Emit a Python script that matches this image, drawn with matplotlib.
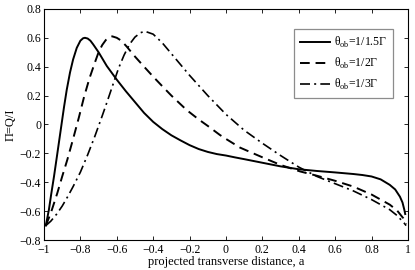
import matplotlib
matplotlib.use("Agg")
import matplotlib.pyplot as plt
from matplotlib.ticker import FuncFormatter, MultipleLocator

# curve data
a_15 = [-0.99, -0.973, -0.96, -0.945, -0.93, -0.91, -0.89, -0.875, -0.857, -0.84, -0.82,
        -0.80, -0.785, -0.775, -0.76, -0.745, -0.73, -0.70, -0.655, -0.60, -0.55, -0.50,
        -0.45, -0.40, -0.35, -0.30, -0.25, -0.20, -0.15, -0.10, -0.05, 0.0, 0.05, 0.1,
        0.2, 0.3, 0.4, 0.5, 0.6, 0.7, 0.75, 0.8, 0.85, 0.9, 0.93, 0.956, 0.97, 0.98,
        0.985]
pi_15 = [-0.70, -0.59, -0.48, -0.36, -0.23, -0.055, 0.12, 0.24, 0.36, 0.45, 0.53,
         0.58, 0.597, 0.60, 0.595, 0.58, 0.555, 0.50, 0.405, 0.31, 0.23, 0.155,
         0.08, 0.018, -0.032, -0.075, -0.11, -0.143, -0.17, -0.19, -0.205, -0.215,
         -0.228, -0.24, -0.265, -0.29, -0.31, -0.322, -0.332, -0.343, -0.35, -0.36,
         -0.38, -0.418, -0.45, -0.50, -0.54, -0.59, -0.62]

a_2 = [-0.99, -0.963, -0.927, -0.90, -0.872, -0.84, -0.808, -0.78, -0.75, -0.72, -0.70,
       -0.68, -0.66, -0.64, -0.625, -0.60, -0.575, -0.546, -0.50, -0.45, -0.40, -0.35,
       -0.30, -0.216, -0.15, -0.10, -0.033, 0.0, 0.077, 0.15, 0.205, 0.3, 0.407, 0.5,
       0.6, 0.7, 0.8, 0.9, 0.94, 0.975, 0.99]
pi_2 = [-0.70, -0.615, -0.476, -0.36, -0.245, -0.10, 0.05, 0.19, 0.32, 0.43, 0.50,
        0.55, 0.585, 0.605, 0.61, 0.60, 0.58, 0.54, 0.47, 0.40, 0.331, 0.265,
        0.20, 0.10, 0.035, -0.01, -0.073, -0.10, -0.16, -0.20, -0.23, -0.28, -0.325,
        -0.355, -0.39, -0.43, -0.485, -0.555, -0.595, -0.65, -0.69]

a_3 = [-0.99, -0.963, -0.93, -0.90, -0.87, -0.84, -0.80, -0.76, -0.72, -0.68, -0.655,
       -0.62, -0.59, -0.56, -0.53, -0.50, -0.47, -0.445, -0.40, -0.35, -0.30, -0.20,
       -0.10, 0.0, 0.1, 0.2, 0.3, 0.4, 0.5, 0.6, 0.7, 0.8, 0.9, 0.94, 0.98, 0.99]
pi_3 = [-0.70, -0.67, -0.62, -0.565, -0.50, -0.43, -0.33, -0.21, -0.08, 0.06, 0.15,
        0.28, 0.39, 0.48, 0.555, 0.605, 0.635, 0.645, 0.625, 0.565, 0.49, 0.34,
        0.20, 0.07, -0.04, -0.13, -0.215, -0.295, -0.36, -0.41, -0.46, -0.52, -0.59,
        -0.63, -0.684, -0.70]

labels = [r"θ$_{\rm ob}$=1/1.5Γ", r"θ$_{\rm ob}$=1/2Γ", r"θ$_{\rm ob}$=1/3Γ"]

plt.rcParams["font.family"] = ["Liberation Serif", "DejaVu Serif"]
plt.rcParams["mathtext.fontset"] = "custom"
plt.rcParams["mathtext.rm"] = "Liberation Serif"
plt.rcParams["font.size"] = 8.5


def tick_fmt(v, pos):
    v = round(v, 1)
    if v == 0:
        return "0"
    return f"{v:g}".replace("-", "\u2212")


fig = plt.figure(figsize=(4.15, 2.7), dpi=100)
ax = fig.add_axes([0.106, 0.111, 0.877, 0.856])

ax.plot(a_15, pi_15, color="black", lw=1.4, ls="-", label=labels[0])
ax.plot(a_2, pi_2, color="black", lw=1.4, ls=(0, (5, 3)), label=labels[1])
ax.plot(a_3, pi_3, color="black", lw=1.2, ls=(0, (6, 2.5, 1.2, 2.5)), label=labels[2])

ax.set_xlim(-1, 1)
ax.set_ylim(-0.8, 0.8)
ax.xaxis.set_major_locator(MultipleLocator(0.2))
ax.yaxis.set_major_locator(MultipleLocator(0.2))
ax.xaxis.set_major_formatter(FuncFormatter(tick_fmt))
ax.yaxis.set_major_formatter(FuncFormatter(tick_fmt))
ax.tick_params(direction="in", top=True, right=True, length=3, width=0.6, pad=2)
ax.tick_params(axis="x", pad=3)
for s in ax.spines.values():
    s.set_linewidth(0.8)

ax.set_xlabel("projected transverse distance, a", labelpad=0, fontsize=9)
ax.set_ylabel("Π=Q/I", labelpad=2, fontsize=9)

leg = ax.legend(loc="upper right", bbox_to_anchor=(0.959, 0.913), fancybox=False,
                handlelength=2.6, borderpad=0.5, labelspacing=0.5, handletextpad=0.3,
                borderaxespad=0)
leg.get_frame().set_edgecolor("#707070")
leg.get_frame().set_linewidth(0.9)

fig.savefig("out.png", dpi=100)
